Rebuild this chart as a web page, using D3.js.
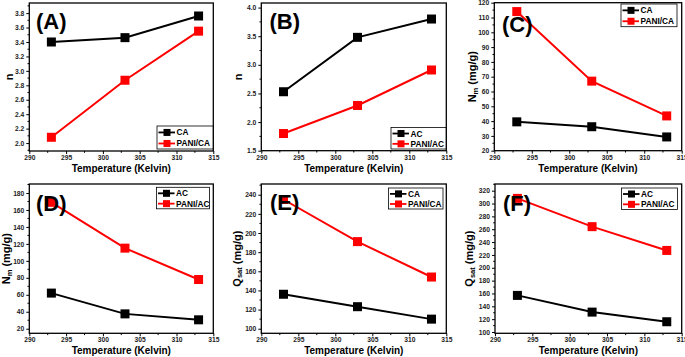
<!DOCTYPE html>
<html>
<head>
<meta charset="utf-8">
<script src="https://cdn.jsdelivr.net/npm/d3@7"></script>
<style>
  body { margin: 0; background: #fff; }
  svg { display: block; font-family: Arial, "Liberation Sans", sans-serif; }
</style>
</head>
<body>
<svg id="chart" width="685" height="357"></svg>
<script>
// temperatures (K)
const temps = [293, 303, 313];
const xTicks = [290, 295, 300, 305, 310, 315];

// (A) n, CA vs PANI/CA
const nCA = [3.40, 3.46, 3.76];
const nPaniCA = [2.08, 2.87, 3.55];
// (B) n, AC vs PANI/AC
const nAC = [2.53, 3.48, 3.80];
const nPaniAC = [1.80, 2.29, 2.91];
// (C) Nm, CA vs PANI/CA
const nmCA = [39.5, 36.2, 29.3];
const nmPaniCA = [114, 67, 43.5];
// (D) Nm, AC vs PANI/AC
const nmAC = [62, 37.5, 30.5];
const nmPaniAC = [169, 115, 78];
// (E) Qsat, CA vs PANI/CA
const qCA = [136, 123, 110];
const qPaniCA = [235, 191, 154];
// (F) Qsat, AC vs PANI/AC
const qAC = [157, 131, 116];
const qPaniAC = [308, 264, 227];

const ticksA = d3.range(2.0, 3.81, 0.2);
const ticksB = d3.range(1.5, 4.01, 0.5);
const ticksC = d3.range(20, 121, 10);
const ticksD = d3.range(20, 181, 20);
const ticksE = d3.range(100, 241, 20);
const ticksF = d3.range(100, 321, 20);

const svg = d3.select('#chart');

const panels = [
    { tag: '(A)', lab: [36, 29], box: [29.3, 213.3, 3, 151], yDom: [1.89, 3.94], yTicks: ticksA, fmt: '.1f',
      yTitle: ['n'], yTitleX: 10, names: ['CA', 'PANI/CA'], s1: nCA, s2: nPaniCA, leg: [157, 126, 56, 23] },
    { tag: '(B)', lab: [269.5, 29], box: [261.3, 446.3, 3, 150.7], yDom: [1.5, 4.08], yTicks: ticksB, fmt: '.1f',
      yTitle: ['n'], yTitleX: 239, names: ['AC', 'PANI/AC'], s1: nAC, s2: nPaniAC, leg: [391, 127.5, 55, 21.5] },
    { tag: '(C)', lab: [502, 32], box: [494.3, 681.7, 2.7, 150.7], yDom: [20, 120], yTicks: ticksC, fmt: 'd',
      yTitle: ['N', 'm', ' (mg/g)'], yTitleX: 473, names: ['CA', 'PANI/CA'], s1: nmCA, s2: nmPaniCA, leg: [621, 4, 56, 22.7] },
    { tag: '(D)', lab: [36, 211], box: [29.3, 213.3, 184, 333.3], yDom: [14.6, 190.6], yTicks: ticksD, fmt: 'd',
      yTitle: ['N', 'm', ' (mg/g)'], yTitleX: 7, names: ['AC', 'PANI/AC'], s1: nmAC, s2: nmPaniAC, leg: [156.5, 187.3, 53, 21.5] },
    { tag: '(E)', lab: [270, 210], box: [261.3, 446.3, 184, 333.3], yDom: [95.2, 251.2], yTicks: ticksE, fmt: 'd',
      yTitle: ['Q', 'sat', ' (mg/g)'], yTitleX: 237.5, names: ['CA', 'PANI/CA'], s1: qCA, s2: qPaniCA, leg: [388.5, 188, 54.5, 21] },
    { tag: '(F)', lab: [503, 211], box: [495, 681.7, 184, 333.3], yDom: [98, 330.4], yTicks: ticksF, fmt: 'd',
      yTitle: ['Q', 'sat', ' (mg/g)'], yTitleX: 470, names: ['AC', 'PANI/AC'], s1: qAC, s2: qPaniAC, leg: [621.5, 188, 56, 21.5] }
];

const colors = ['#000000', '#ff0000'];
const mk = 9;

panels.forEach(p => {
    const [l, r, t, b] = p.box;
    const x = d3.scaleLinear().domain([290, 315]).range([l, r]);
    const y = d3.scaleLinear().domain(p.yDom).range([b, t]);
    const g = svg.append('g');

    // minor ticks
    const xMinor = d3.range(292.5, 315, 5);
    const step = p.yTicks[1] - p.yTicks[0];
    const yMinor = d3.range(p.yTicks[0] - step / 2, p.yDom[1], step).filter(v => v > p.yDom[0] && v < p.yDom[1]);
    g.selectAll('.xm').data(xMinor).join('line')
        .attr('x1', d => x(d)).attr('x2', d => x(d)).attr('y1', b).attr('y2', b + 1.8)
        .attr('stroke', '#000').attr('stroke-width', 1);
    g.selectAll('.ym').data(yMinor).join('line')
        .attr('x1', l).attr('x2', l - 1.8).attr('y1', d => y(d)).attr('y2', d => y(d))
        .attr('stroke', '#000').attr('stroke-width', 1);

    // axes
    const xAxis = g.append('g').attr('transform', `translate(0,${b})`)
        .call(d3.axisBottom(x).tickValues(xTicks).tickSize(3).tickPadding(1.4).tickFormat(d3.format('d')));
    const yAxis = g.append('g').attr('transform', `translate(${l},0)`)
        .call(d3.axisLeft(y).tickValues(p.yTicks).tickSize(3).tickPadding(2).tickFormat(d3.format(p.fmt)));
    [xAxis, yAxis].forEach(a => {
        a.select('.domain').remove();
        a.selectAll('line').attr('stroke', '#000').attr('stroke-width', 1);
        a.selectAll('text').attr('font-size', 6.7).attr('font-weight', 'bold').attr('fill', '#222')
            .attr('font-family', 'Arial, "Liberation Sans", sans-serif');
    });

    // frame
    g.append('rect').attr('x', l).attr('y', t).attr('width', r - l).attr('height', b - t)
        .attr('fill', 'none').attr('stroke', '#000').attr('stroke-width', 1.3);

    // series
    [p.s1, p.s2].forEach((s, i) => {
        const pts = temps.map((tk, j) => [tk, s[j]]);
        g.append('path').datum(pts)
            .attr('d', d3.line().x(d => x(d[0])).y(d => y(d[1])))
            .attr('fill', 'none').attr('stroke', colors[i]).attr('stroke-width', 2);
        g.selectAll(null).data(pts).join('rect')
            .attr('x', d => x(d[0]) - mk / 2).attr('y', d => y(d[1]) - mk / 2)
            .attr('width', mk).attr('height', mk).attr('fill', colors[i]);
    });

    // panel tag
    g.append('text').attr('x', p.lab[0]).attr('y', p.lab[1]).text(p.tag)
        .attr('font-size', 22).attr('font-weight', 'bold').attr('fill', '#000');

    // axis titles
    g.append('text').attr('x', (l + r) / 2).attr('y', b + 21).attr('text-anchor', 'middle')
        .attr('font-size', 10).attr('font-weight', 'bold').text('Temperature (Kelvin)');
    const yt = g.append('text')
        .attr('transform', `translate(${p.yTitleX},${(t + b) / 2}) rotate(-90)`)
        .attr('text-anchor', 'middle').attr('dominant-baseline', 'middle')
        .attr('font-size', 11).attr('font-weight', 'bold');
    yt.append('tspan').text(p.yTitle[0]);
    if (p.yTitle.length > 1) {
        yt.append('tspan').text(p.yTitle[1]).attr('font-size', 7.5).attr('dy', 2.5);
        yt.append('tspan').text(p.yTitle[2]).attr('dy', -2.5);
    }

    // legend
    const [lx, ly, lw, lh] = p.leg;
    const lg = g.append('g');
    lg.append('rect').attr('x', lx).attr('y', ly).attr('width', lw).attr('height', lh)
        .attr('fill', '#fff').attr('stroke', '#000').attr('stroke-width', 0.8);
    p.names.forEach((n, i) => {
        const cy = ly + lh * (i === 0 ? 0.28 : 0.76);
        lg.append('line').attr('x1', lx + 1.5).attr('x2', lx + 18).attr('y1', cy).attr('y2', cy)
            .attr('stroke', colors[i]).attr('stroke-width', 1.8);
        lg.append('rect').attr('x', lx + 10 - 3.5).attr('y', cy - 3.5).attr('width', 7).attr('height', 7)
            .attr('fill', colors[i]);
        lg.append('text').attr('x', lx + 19.5).attr('y', cy).attr('dominant-baseline', 'central')
            .attr('font-size', 8.3).attr('font-weight', 'bold').text(n);
    });
});
</script>
</body>
</html>
